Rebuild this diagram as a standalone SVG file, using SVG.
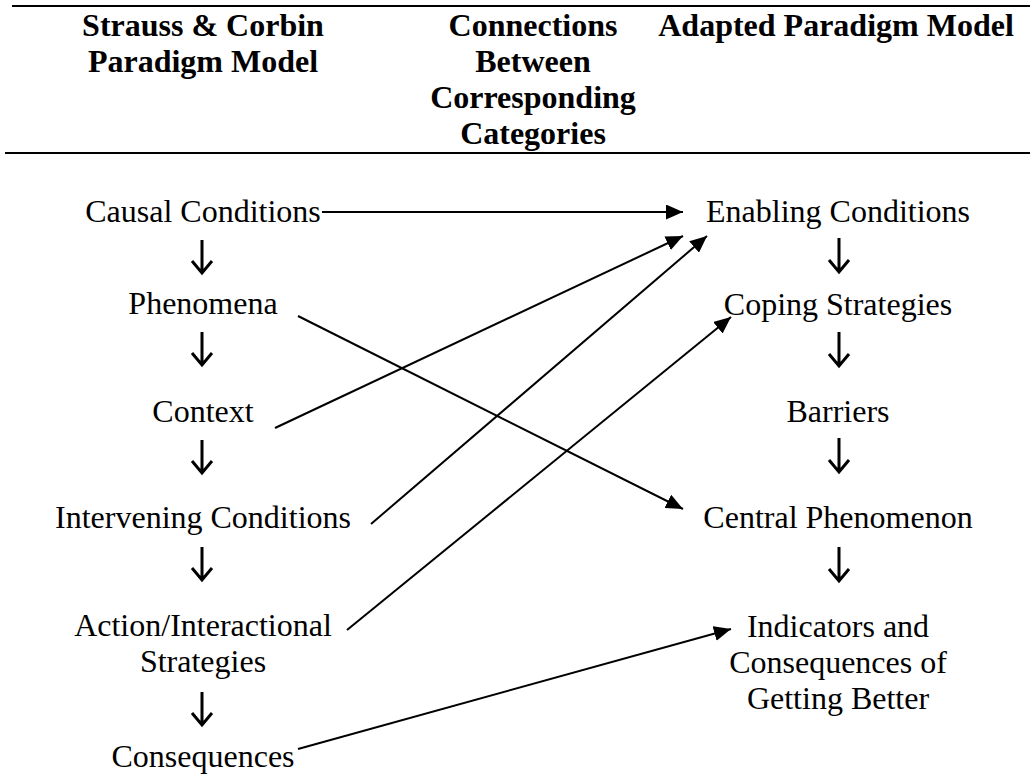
<svg xmlns="http://www.w3.org/2000/svg" width="1030" height="780" viewBox="0 0 1030 780">
<style>
.h{font-family:"Liberation Serif","Times New Roman",serif;font-weight:bold;font-size:32px;fill:#000;text-anchor:middle}
.t{font-family:"Liberation Serif","Times New Roman",serif;font-size:32px;fill:#000;text-anchor:middle}
.rule{stroke:#000;stroke-width:2.2}
.c{stroke:#000;stroke-width:2;fill:none}
.d{stroke:#000;stroke-width:3;fill:none;stroke-linecap:butt}
</style>
<defs>
<marker id="ah" markerUnits="userSpaceOnUse" markerWidth="17" markerHeight="15" refX="17" refY="7.5" orient="auto">
<path d="M0,0 L17,7.5 L0,15 z" fill="#000"/>
</marker>
</defs>
<rect width="1030" height="780" fill="#fff"/>
<g id="header">
<line class="rule" x1="12" y1="6" x2="1030" y2="6"/>
<line class="rule" x1="5" y1="153" x2="1030" y2="153"/>
<text class="h" x="203" y="36">Strauss &amp; Corbin</text>
<text class="h" x="203" y="72">Paradigm Model</text>
<text class="h" x="533" y="36">Connections</text>
<text class="h" x="533" y="72">Between</text>
<text class="h" x="533" y="108">Corresponding</text>
<text class="h" x="533" y="144">Categories</text>
<text class="h" x="836" y="36">Adapted Paradigm Model</text>
</g>
<g id="causal"><text class="t" x="203" y="222">Causal Conditions</text></g>
<g id="phenomena"><text class="t" x="203" y="314">Phenomena</text></g>
<g id="context"><text class="t" x="203" y="422">Context</text></g>
<g id="intervening"><text class="t" x="203" y="528">Intervening Conditions</text></g>
<g id="action"><text class="t" x="203" y="636">Action/Interactional</text><text class="t" x="203" y="672">Strategies</text></g>
<g id="consequences"><text class="t" x="203" y="767">Consequences</text></g>
<g id="enabling"><text class="t" x="838" y="222">Enabling Conditions</text></g>
<g id="coping"><text class="t" x="838" y="315">Coping Strategies</text></g>
<g id="barriers"><text class="t" x="838" y="422">Barriers</text></g>
<g id="central"><text class="t" x="838" y="528">Central Phenomenon</text></g>
<g id="indicators"><text class="t" x="838" y="637">Indicators and</text><text class="t" x="838" y="673">Consequences of</text><text class="t" x="838" y="709">Getting Better</text></g>
<g id="connectors">
<path class="d" d="M202,240 V273 M192,261 L202,273 L212,261"/>
<path class="d" d="M202,332 V365 M192,353 L202,365 L212,353"/>
<path class="d" d="M202,440 V473 M192,461 L202,473 L212,461"/>
<path class="d" d="M202,547 V580 M192,568 L202,580 L212,568"/>
<path class="d" d="M202,692 V725 M192,713 L202,725 L212,713"/>
<path class="d" d="M839,238 V272 M829,260 L839,272 L849,260"/>
<path class="d" d="M839,332 V366 M829,354 L839,366 L849,354"/>
<path class="d" d="M839,438 V472 M829,460 L839,472 L849,460"/>
<path class="d" d="M839,547 V581 M829,569 L839,581 L849,569"/>
<line class="c" x1="322" y1="212" x2="683" y2="212" marker-end="url(#ah)"/>
<line class="c" x1="275" y1="428" x2="683" y2="236" marker-end="url(#ah)"/>
<line class="c" x1="371" y1="524" x2="707" y2="236" marker-end="url(#ah)"/>
<line class="c" x1="347" y1="630" x2="731" y2="317" marker-end="url(#ah)"/>
<line class="c" x1="298" y1="316" x2="683" y2="509" marker-end="url(#ah)"/>
<line class="c" x1="298" y1="749" x2="731" y2="629" marker-end="url(#ah)"/>
</g>
</svg>
